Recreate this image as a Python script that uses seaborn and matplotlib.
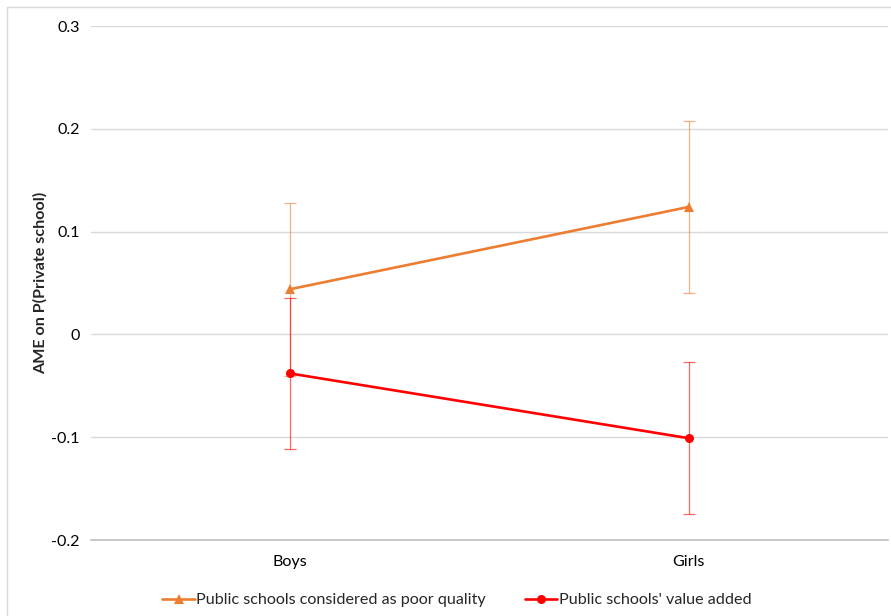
import pandas as pd
import matplotlib.pyplot as plt
import seaborn as sns
from matplotlib.patches import Rectangle

# Values
groups = ["Boys", "Girls"]
poor_quality = [0.044, 0.124]
poor_quality_err = [0.084, 0.084]
value_added = [-0.038, -0.101]
value_added_err = [0.073, 0.074]
series_names = ["Public schools considered as poor quality", "Public schools' value added"]
yticks = [-0.2, -0.1, 0, 0.1, 0.2, 0.3]
ytick_labels = ["-0.2", "-0.1", "0", "0.1", "0.2", "0.3"]

df = pd.DataFrame({
    "group": groups * 2,
    "series": [series_names[0]] * 2 + [series_names[1]] * 2,
    "ame": poor_quality + value_added,
    "err": poor_quality_err + value_added_err,
})

sns.set_style("white")
plt.rcParams["font.family"] = ["Lato", "DejaVu Sans"]

colors = {series_names[0]: "#ED7D31", series_names[1]: "#FF0000"}
markers = {series_names[0]: "^", series_names[1]: "o"}
fs = 11.6

fig = plt.figure(figsize=(8.91, 6.16), dpi=100)
ax = fig.add_axes([91 / 891, 1 - 540 / 616, 797 / 891, 514 / 616])

# error bars first so lines sit on top
for name in series_names:
    sub = df[df["series"] == name]
    ax.errorbar(sub["group"], sub["ame"], yerr=sub["err"], fmt="none",
                ecolor=colors[name], elinewidth=0.9, capsize=4, capthick=0.9,
                alpha=0.6, zorder=2)

sns.lineplot(data=df, x="group", y="ame", hue="series", style="series",
             palette=colors, markers=markers, dashes=False, linewidth=1.9,
             markersize=6.5, markeredgewidth=0, ax=ax, zorder=3)

ax.set_xlim(-0.5, 1.5)
ax.set_ylim(-0.2, 0.3)
ax.set_yticks(yticks)
ax.set_yticklabels(ytick_labels)
ax.yaxis.grid(True, color="#d9d9d9", linewidth=1)
ax.set_axisbelow(True)
for side in ["left", "right", "top"]:
    ax.spines[side].set_visible(False)
ax.spines["bottom"].set_color("#bfbfbf")
ax.spines["bottom"].set_linewidth(1.2)
ax.tick_params(axis="both", length=0, labelsize=fs, colors="#000000")
ax.tick_params(axis="y", pad=8)
ax.tick_params(axis="x", pad=11)
ax.set_xlabel("")
ax.set_ylabel("AME on P(Private school)", fontsize=fs, fontweight="bold", labelpad=3)

handles, labels = ax.get_legend_handles_labels()
ax.legend(handles, labels, loc="upper center", bbox_to_anchor=(0.459, -0.075),
          ncol=2, frameon=False, fontsize=fs, handlelength=2.0,
          handletextpad=0.1, columnspacing=2.4)

# light chart-area border like the spreadsheet export
fig.patches.append(Rectangle((7 / 891, -0.1), 1.2, 1 - 7 / 616 + 0.1,
                             transform=fig.transFigure, fill=False,
                             edgecolor="#d9d9d9", linewidth=1))

fig.savefig("out.png", dpi=100)
